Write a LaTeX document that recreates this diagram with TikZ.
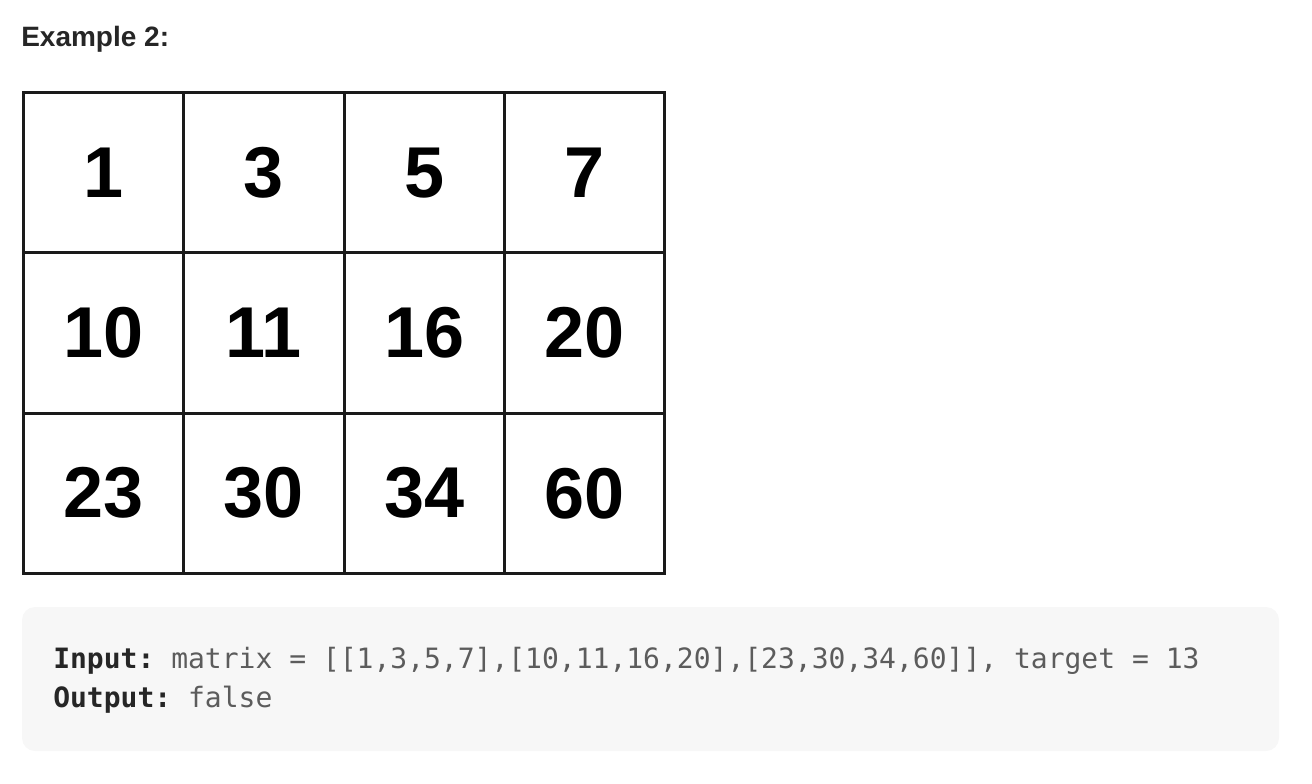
\documentclass[tikz,border=0pt]{standalone}
\usepackage{fontspec}
\setmainfont{Liberation Sans}
\setmonofont{DejaVu Sans Mono}
\usetikzlibrary{positioning}
\definecolor{inkdark}{HTML}{262626}
\definecolor{codegray}{HTML}{5C5C5C}
\definecolor{codebg}{HTML}{F7F7F7}
\definecolor{gridline}{HTML}{1A1A1A}
\begin{document}
\begin{tikzpicture}[x=0.75pt,y=-0.75pt,node distance=120.225pt,
  cell/.style={draw=gridline,line width=2.25pt,minimum size=120.225pt,inner sep=0pt,outer sep=0pt,font=\fontsize{54}{54}\selectfont\bfseries},
  codeline/.style={anchor=base west,inner sep=0pt,text=codegray,font=\fontsize{21}{21}\selectfont\ttfamily}]
  \useasboundingbox (0,0) rectangle (1312,784);
  \node[anchor=base west,inner sep=0pt,text=inkdark,font=\fontsize{21}{21}\selectfont\bfseries] (title) at (21,47) {Example 2:};

  \node[cell] (1) at (103.65,172.65) {1};
  \node[cell,right of=1] (3) {3};
  \node[cell,right of=3] (5) {5};
  \node[cell,right of=5] (7) {7};

  \node[cell,below of=1] (10) {10};
  \node[cell,right of=10] (11) {11};
  \node[cell,right of=11] (16) {16};
  \node[cell,right of=16] (20) {20};

  \node[cell,below of=10] (23) {23};
  \node[cell,right of=23] (30) {30};
  \node[cell,right of=30] (34) {34};
  \node[cell,right of=34] (60) {60};

  \fill[codebg,rounded corners=9.75pt] (22,607) rectangle (1279,751);
  \node[codeline] (input) at (53,668) {\textcolor{inkdark}{\bfseries Input:} matrix = [[1,3,5,7],[10,11,16,20],[23,30,34,60]], target = 13};
  \node[codeline] (output) at (53,707) {\textcolor{inkdark}{\bfseries Output:} false};
\end{tikzpicture}
\end{document}
